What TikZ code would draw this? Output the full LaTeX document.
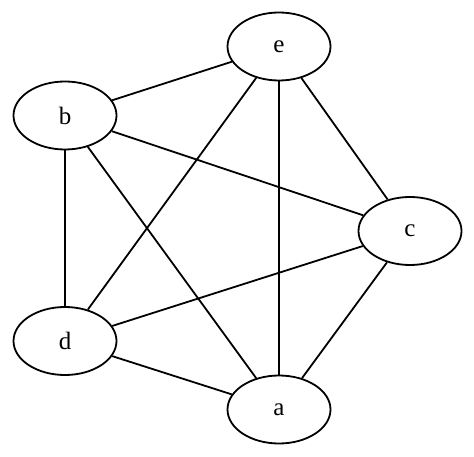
\documentclass[tikz,border=0pt]{standalone}
\usepackage{fontspec}
\setmainfont{Liberation Serif}
\usetikzlibrary{shapes.geometric}
\begin{document}
\begin{tikzpicture}[x=1pt,y=-1pt,
  vtx/.style={draw,ellipse,line width=1.8pt,minimum width=103pt,minimum height=68pt,inner sep=0pt,font=\fontsize{25}{30}\selectfont},
  edge/.style={line width=1.8pt}]
\useasboundingbox (0,0) rectangle (474,457);
\node[vtx] (e) at (279,46.5) {e};
\node[vtx] (b) at (65,115.5) {b};
\node[vtx] (c) at (410,231) {c};
\node[vtx] (d) at (65,341) {d};
\node[vtx] (a) at (279,409.5) {a};
\draw[edge] (e) -- (b);
\draw[edge] (e) -- (c);
\draw[edge] (e) -- (d);
\draw[edge] (e) -- (a);
\draw[edge] (b) -- (c);
\draw[edge] (b) -- (d);
\draw[edge] (b) -- (a);
\draw[edge] (c) -- (d);
\draw[edge] (c) -- (a);
\draw[edge] (d) -- (a);
\end{tikzpicture}
\end{document}
